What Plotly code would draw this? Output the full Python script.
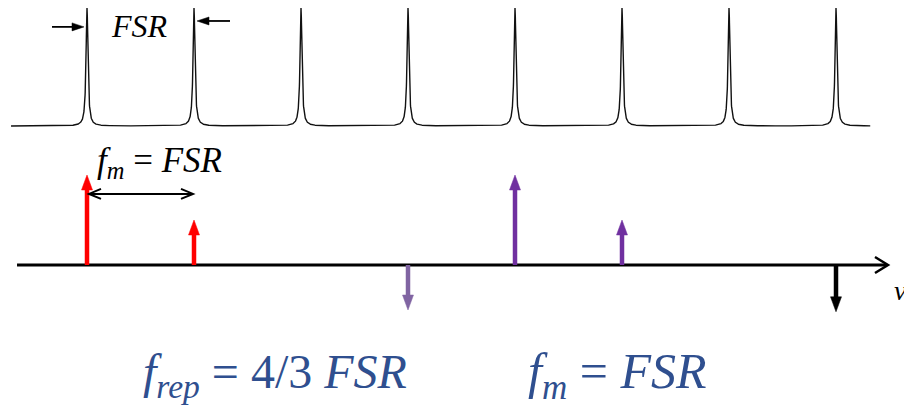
import numpy as np
import plotly.graph_objects as go

W, H = 904, 406

# ---------------- data ----------------
resonance_pos = [0, 1, 2, 3, 4, 5, 6, 7]      # cavity resonances (units of FSR)
resonance_hwhm = 0.0107                        # resonance half width (FSR)
comb_start, comb_end = -0.71, 7.32

line_pos = [0, 1, 3, 4, 5, 7]                 # spectral lines (units of FSR)
line_amp = [1.0, 0.5, -0.5, 1.0, 0.5, -0.52]
line_color = ["#ff0000", "#ff0000", "#8064a2", "#7030a0", "#7030a0", "#000000"]

axis_start, axis_end = -0.654, 7.486

fsr_arrow_y = [0.84, 0.89]                    # top FSR marker arrows (comb axis)
fm_arrow_y = 0.79                             # f_m = FSR double arrow (spectrum axis)

# ---------------- layout scales ----------------
X0_PX, PX_PER_FSR = 87, 107
Y_COMB_BASE_PX, PX_PER_COMB = 126, 118
Y_AXIS_PX, PX_PER_AMP = 265, 90

xr = [-X0_PX / PX_PER_FSR, (W - X0_PX) / PX_PER_FSR]
y1r = [-(H - Y_COMB_BASE_PX) / PX_PER_COMB, Y_COMB_BASE_PX / PX_PER_COMB]
y2r = [-(H - Y_AXIS_PX) / PX_PER_AMP, Y_AXIS_PX / PX_PER_AMP]

FONT = "Liberation Serif"

fig = go.Figure()

# comb of Lorentzian resonances
xc = np.arange(comb_start, comb_end, 0.001)
yc = np.zeros_like(xc)
for c in resonance_pos:
    yc += 1.0 / (1.0 + ((xc - c) / resonance_hwhm) ** 2)
fig.add_trace(go.Scatter(x=xc, y=yc, mode="lines", line=dict(color="#111111", width=1.4),
                         yaxis="y", hoverinfo="skip", showlegend=False))

# frequency axis
fig.add_trace(go.Scatter(x=[axis_start, axis_end - 1.0 / PX_PER_FSR], y=[0, 0], mode="lines",
                         line=dict(color="black", width=3), yaxis="y2", showlegend=False))

shapes = []


def tri(x, y, yref, direction, length, half, color):
    if direction == "up":
        p = f"M0,0 L{-half},{-length} L{half},{-length} Z"
    elif direction == "down":
        p = f"M0,0 L{-half},{length} L{half},{length} Z"
    elif direction == "right":
        p = f"M0,0 L{-length},{half} L{-length},{-half} Z"
    else:
        p = f"M0,0 L{length},{half} L{length},{-half} Z"
    return dict(type="path", xref="x", yref=yref, xsizemode="pixel", ysizemode="pixel",
                xanchor=x, yanchor=y, path=p, fillcolor=color, line=dict(color=color, width=0.5),
                layer="above")


def chevron(x, y, yref, direction, length, half, color, width):
    s = -1 if direction == "right" else 1
    p = f"M{s*length},{half} L0,0 L{s*length},{-half}"
    return dict(type="path", xref="x", yref=yref, xsizemode="pixel", ysizemode="pixel",
                xanchor=x, yanchor=y, path=p, fillcolor="rgba(0,0,0,0)",
                line=dict(color=color, width=width), layer="above")


# spectral lines (stems + heads)
HEAD_L, HEAD_HW = 15, 5.5
for p, a, col in zip(line_pos, line_amp, line_color):
    sgn = 1 if a > 0 else -1
    fig.add_trace(go.Scatter(x=[p, p], y=[0, a - sgn * 11 / PX_PER_AMP], mode="lines",
                             line=dict(color=col, width=4.5), yaxis="y2", showlegend=False))
    shapes.append(tri(p, a, "y2", "up" if a > 0 else "down", HEAD_L, HEAD_HW, col))

# axis arrow head
shapes.append(chevron(axis_end, 0, "y2", "right", 13, 8, "black", 2.5))

# f_m = FSR double arrow
fm_l = line_pos[0] + 2 / PX_PER_FSR
fm_r = line_pos[1] - 1 / PX_PER_FSR
fig.add_trace(go.Scatter(x=[fm_l, fm_r], y=[fm_arrow_y, fm_arrow_y], mode="lines",
                         line=dict(color="black", width=2), yaxis="y2", showlegend=False))
shapes.append(chevron(fm_l, fm_arrow_y, "y2", "left", 12, 5, "black", 2))
shapes.append(chevron(fm_r, fm_arrow_y, "y2", "right", 12, 5, "black", 2))

# FSR marker arrows on the comb
r_tip = resonance_pos[0] - 3 / PX_PER_FSR
r_tail = resonance_pos[0] - 35 / PX_PER_FSR
l_tip = resonance_pos[1] + 3 / PX_PER_FSR
l_tail = resonance_pos[1] + 36 / PX_PER_FSR
fig.add_trace(go.Scatter(x=[r_tail, r_tip - 8 / PX_PER_FSR], y=[fsr_arrow_y[0]] * 2, mode="lines",
                         line=dict(color="black", width=1.8), yaxis="y", showlegend=False))
fig.add_trace(go.Scatter(x=[l_tail, l_tip + 8 / PX_PER_FSR], y=[fsr_arrow_y[1]] * 2, mode="lines",
                         line=dict(color="black", width=1.8), yaxis="y", showlegend=False))
shapes.append(tri(r_tip, fsr_arrow_y[0], "y", "right", 12, 4, "black"))
shapes.append(tri(l_tip, fsr_arrow_y[1], "y", "left", 12, 4, "black"))

ann = [
    dict(x=0.486, y=0.85, xref="x", yref="y", text="<i>FSR</i>", showarrow=False,
         font=dict(family=FONT, size=32, color="black")),
    dict(x=0.68, y=1.14, xref="x", yref="y2", text="<i>f</i><sub><i>m</i></sub> = <i>FSR</i>",
         showarrow=False, font=dict(family=FONT, size=35, color="black")),
    dict(x=7.52, y=-0.28, xref="x", yref="y2", xanchor="left", text="<i>ν</i>", showarrow=False,
         font=dict(family=FONT, size=28, color="black")),
    dict(x=1.757, y=-1.222, xref="x", yref="y2",
         text="<i>f</i><sub><i>rep</i></sub> = 4/3 <i>FSR</i>", showarrow=False,
         font=dict(family=FONT, size=48, color="#2f4f8f")),
    dict(x=4.953, y=-1.222, xref="x", yref="y2",
         text="<i>f</i><sub><i>m</i></sub> = <i>FSR</i>", showarrow=False,
         font=dict(family=FONT, size=50, color="#2f4f8f")),
]

fig.update_layout(
    width=W, height=H, margin=dict(l=0, r=0, t=0, b=0),
    paper_bgcolor="white", plot_bgcolor="white", showlegend=False,
    xaxis=dict(range=xr, visible=False, fixedrange=True),
    yaxis=dict(range=y1r, visible=False, fixedrange=True),
    yaxis2=dict(range=y2r, visible=False, overlaying="y", fixedrange=True),
    shapes=shapes, annotations=ann,
)

fig.write_html("out.html")
